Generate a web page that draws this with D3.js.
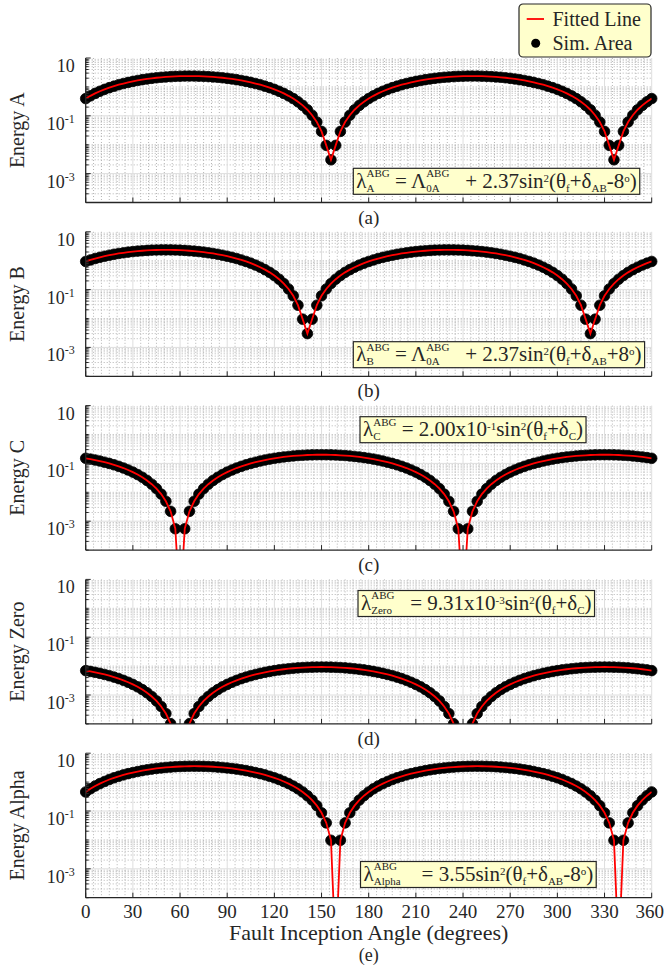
<!DOCTYPE html>
<html>
<head>
<meta charset="utf-8">
<script src="https://cdn.jsdelivr.net/npm/d3@7"></script>
<style>
body { margin: 0; background: #fff; }
svg text { font-family: "Liberation Serif", "Times New Roman", serif; fill: #262626; }
</style>
</head>
<body>
<svg width="665" height="966"></svg>
<script>
// fault inception angle (degrees), one sample every 3 degrees
var angles = [0,3,6,9,12,15,18,21,24,27,30,33,36,39,42,45,48,51,54,57,60,63,66,69,72,75,78,81,84,87,
  90,93,96,99,102,105,108,111,114,117,120,123,126,129,132,135,138,141,144,147,150,153,156,159,162,165,168,171,174,177,
  180,183,186,189,192,195,198,201,204,207,210,213,216,219,222,225,228,231,234,237,240,243,246,249,252,255,258,261,264,267,
  270,273,276,279,282,285,288,291,294,297,300,303,306,309,312,315,318,321,324,327,330,333,336,339,342,345,348,351,354,357,360];

var energyA = [0.395,0.491,0.596,0.706,0.822,0.942,1.06,1.19,1.31,1.43,1.55,1.67,1.78,1.88,1.98,2.07,2.15,2.21,2.27,2.32,2.35,2.37,2.37,
  2.37,2.35,2.32,2.27,2.21,2.15,2.07,1.98,1.88,1.78,1.67,1.55,1.43,1.31,1.19,1.06,0.942,0.822,0.706,0.596,0.491,0.395,0.307,0.229,0.162,0.105,0.0610,0.0289,0.00949,0.00300,
  0.00949,0.0289,0.0610,0.105,0.162,0.229,0.307,
  0.395,0.491,0.596,0.706,0.822,0.942,1.06,1.19,1.31,1.43,1.55,1.67,1.78,1.88,1.98,2.07,2.15,2.21,2.27,2.32,2.35,2.37,2.37,
  2.37,2.35,2.32,2.27,2.21,2.15,2.07,1.98,1.88,1.78,1.67,1.55,1.43,1.31,1.19,1.06,0.942,0.822,0.706,0.596,0.491,0.395,0.307,0.229,0.162,0.105,0.0610,0.0289,0.00949,0.00300,
  0.00949,0.0289,0.0610,0.105,0.162,0.229,0.307,
  0.395];

var energyB = [0.942,1.06,1.19,1.31,1.43,1.55,1.67,1.78,1.88,1.98,2.07,2.15,2.21,2.27,2.32,2.35,2.37,2.37,
  2.37,2.35,2.32,2.27,2.21,2.15,2.07,1.98,1.88,1.78,1.67,1.55,1.43,1.31,1.19,1.06,0.942,0.822,0.706,0.596,0.491,0.395,0.307,0.229,0.162,0.105,0.0610,0.0289,0.00949,0.00300,
  0.00949,0.0289,0.0610,0.105,0.162,0.229,0.307,0.395,0.491,0.596,0.706,0.822,
  0.942,1.06,1.19,1.31,1.43,1.55,1.67,1.78,1.88,1.98,2.07,2.15,2.21,2.27,2.32,2.35,2.37,2.37,
  2.37,2.35,2.32,2.27,2.21,2.15,2.07,1.98,1.88,1.78,1.67,1.55,1.43,1.31,1.19,1.06,0.942,0.822,0.706,0.596,0.491,0.395,0.307,0.229,0.162,0.105,0.0610,0.0289,0.00949,0.00300,
  0.00949,0.0289,0.0610,0.105,0.162,0.229,0.307,0.395,0.491,0.596,0.706,0.822,
  0.942];

var energyC = [0.150,0.141,0.131,0.121,0.110,0.100,0.0895,0.0792,0.0691,0.0593,0.0500,0.0412,0.0331,0.0257,0.0191,0.0134,0.00865,0.00489,0.00219,0.000548,
  0,
  0.000548,0.00219,0.00489,0.00865,0.0134,0.0191,0.0257,0.0331,0.0412,0.0500,0.0593,0.0691,0.0792,0.0895,0.100,0.110,0.121,0.131,0.141,0.150,0.159,0.167,0.174,0.181,0.187,0.191,0.195,0.198,0.199,0.200,
  0.199,0.198,0.195,0.191,0.187,0.181,0.174,0.167,0.159,
  0.150,0.141,0.131,0.121,0.110,0.100,0.0895,0.0792,0.0691,0.0593,0.0500,0.0412,0.0331,0.0257,0.0191,0.0134,0.00865,0.00489,0.00219,0.000548,
  0,
  0.000548,0.00219,0.00489,0.00865,0.0134,0.0191,0.0257,0.0331,0.0412,0.0500,0.0593,0.0691,0.0792,0.0895,0.100,0.110,0.121,0.131,0.141,0.150,0.159,0.167,0.174,0.181,0.187,0.191,0.195,0.198,0.199,0.200,
  0.199,0.198,0.195,0.191,0.187,0.181,0.174,0.167,0.159,
  0.150];

var energyZero = [0.00698,0.00655,0.00609,0.00562,0.00514,0.00466,0.00417,0.00369,0.00322,0.00276,0.00233,0.00192,0.00154,0.00120,0.000889,0.000624,0.000402,0.000228,0.000102,0.0000255,
  0,
  0.0000255,0.000102,0.000228,0.000402,0.000624,0.000889,0.00120,0.00154,0.00192,0.00233,0.00276,0.00322,0.00369,0.00417,0.00466,0.00514,0.00562,0.00609,0.00655,0.00698,0.00739,0.00777,0.00811,0.00842,0.00869,0.00891,0.00908,0.00921,0.00928,0.00931,
  0.00928,0.00921,0.00908,0.00891,0.00869,0.00842,0.00811,0.00777,0.00739,
  0.00698,0.00655,0.00609,0.00562,0.00514,0.00466,0.00417,0.00369,0.00322,0.00276,0.00233,0.00192,0.00154,0.00120,0.000889,0.000624,0.000402,0.000228,0.000102,0.0000255,
  0,
  0.0000255,0.000102,0.000228,0.000402,0.000624,0.000889,0.00120,0.00154,0.00192,0.00233,0.00276,0.00322,0.00369,0.00417,0.00466,0.00514,0.00562,0.00609,0.00655,0.00698,0.00739,0.00777,0.00811,0.00842,0.00869,0.00891,0.00908,0.00921,0.00928,0.00931,
  0.00928,0.00921,0.00908,0.00891,0.00869,0.00842,0.00811,0.00777,0.00739,
  0.00698];

var energyAlpha = [0.456,0.587,0.732,0.888,1.05,1.23,1.41,1.59,1.78,1.96,2.14,2.32,2.50,2.66,2.82,2.96,3.09,3.21,3.31,3.40,3.46,3.51,3.54,3.55,
  3.54,3.51,3.46,3.40,3.31,3.21,3.09,2.96,2.82,2.66,2.50,2.32,2.14,1.96,1.78,1.59,1.41,1.23,1.05,0.888,0.732,0.587,0.456,0.339,0.238,0.153,0.0869,0.0388,0.00972,0,
  0.00972,0.0388,0.0869,0.153,0.238,0.339,
  0.456,0.587,0.732,0.888,1.05,1.23,1.41,1.59,1.78,1.96,2.14,2.32,2.50,2.66,2.82,2.96,3.09,3.21,3.31,3.40,3.46,3.51,3.54,3.55,
  3.54,3.51,3.46,3.40,3.31,3.21,3.09,2.96,2.82,2.66,2.50,2.32,2.14,1.96,1.78,1.59,1.41,1.23,1.05,0.888,0.732,0.587,0.456,0.339,0.238,0.153,0.0869,0.0388,0.00972,0,
  0.00972,0.0388,0.0869,0.153,0.238,0.339,
  0.456];

var xTicks = [0,30,60,90,120,150,180,210,240,270,300,330,360];
var yTicks = [10, 0.1, 0.001];
var yTickExp = ["", "-1", "-3"];
var yNames = ["Energy A", "Energy B", "Energy C", "Energy Zero", "Energy Alpha"];
var tags = ["(a)", "(b)", "(c)", "(d)", "(e)"];
var legendLabels = ["Fitted Line", "Sim. Area"];

// n = normal, u = superscript, d = subscript, s = stacked sup/sub
var equations = [
  [["n","λ"],["s","ABG","A"],["n"," = Λ"],["s","ABG","0A"],["n","   + 2.37sin"],["u","2"],["n","(θ"],["d","f"],["n","+δ"],["d","AB"],["n","-8"],["u","o"],["n",")"]],
  [["n","λ"],["s","ABG","B"],["n"," = Λ"],["s","ABG","0A"],["n","   + 2.37sin"],["u","2"],["n","(θ"],["d","f"],["n","+δ"],["d","AB"],["n","+8"],["u","o"],["n",")"]],
  [["n","λ"],["s","ABG","C"],["n"," = 2.00x10"],["u","-1"],["n","sin"],["u","2"],["n","(θ"],["d","f"],["n","+δ"],["d","C"],["n",")"]],
  [["n","λ"],["s","ABG","Zero"],["n","   = 9.31x10"],["u","-3"],["n","sin"],["u","2"],["n","(θ"],["d","f"],["n","+δ"],["d","C"],["n",")"]],
  [["n","λ"],["s","ABG","Alpha"],["n","    = 3.55sin"],["u","2"],["n","(θ"],["d","f"],["n","+δ"],["d","AB"],["n","-8"],["u","o"],["n",")"]]
];

var series = [energyA, energyB, energyC, energyZero, energyAlpha];

var svg = d3.select("svg");
var left = 85.7, right = 651.7;
var top0 = 58, step = 173.8, ph = 144.5;
var eqPos = [[353.3,168.3],[353.3,341.7],[360,416.7],[358,590.5],[360.5,861.5]];
var axisColor = "#262626";

var x = d3.scaleLinear().domain([0, 360]).range([left, right]);

series.forEach(function(vals, i) {
  var top = top0 + i * step, bottom = top + ph;
  var y = d3.scaleLog().domain([1e-4, 10]).range([bottom, top]);
  var g = svg.append("g");

  // clip areas
  g.append("clipPath").attr("id", "dots" + i)
    .append("rect").attr("x", left - 12).attr("y", top).attr("width", right - left + 24).attr("height", ph);
  g.append("clipPath").attr("id", "line" + i)
    .append("rect").attr("x", left).attr("y", top).attr("width", right - left).attr("height", ph);

  // grid
  var minorX = x.ticks(72).filter(function(d) { return d % 30 !== 0; });
  var minorY = y.ticks().filter(function(d) { return yTicks.indexOf(d) < 0 && d > 1e-4; });
  g.selectAll(".gxm").data(minorX).enter().append("line")
    .attr("x1", x).attr("x2", x).attr("y1", top).attr("y2", bottom)
    .attr("stroke", "#b4b4b4").attr("stroke-dasharray", "1,2");
  g.selectAll(".gym").data(minorY).enter().append("line")
    .attr("x1", left).attr("x2", right).attr("y1", y).attr("y2", y)
    .attr("stroke", "#b4b4b4").attr("stroke-dasharray", "1,2");
  g.selectAll(".gx").data(xTicks.slice(1)).enter().append("line")
    .attr("x1", x).attr("x2", x).attr("y1", top).attr("y2", bottom)
    .attr("stroke", "#dedede");
  g.selectAll(".gy").data(yTicks.slice(1)).enter().append("line")
    .attr("x1", left).attr("x2", right).attr("y1", y).attr("y2", y)
    .attr("stroke", "#dedede");

  var pts = angles.map(function(a, j) { return { a: a, v: vals[j] }; });

  // simulated points
  g.append("g").attr("clip-path", "url(#dots" + i + ")")
    .selectAll("circle").data(pts.filter(function(d) { return d.v > 0; }))
    .enter().append("circle")
    .attr("cx", function(d) { return x(d.a); })
    .attr("cy", function(d) { return y(d.v); })
    .attr("r", 5.3).attr("fill", "#000").attr("stroke", "#000").attr("stroke-width", 0.8);

  // fitted line
  var line = d3.line()
    .x(function(d) { return x(d.a); })
    .y(function(d) { return y(Math.max(d.v, 1e-6)); });
  g.append("path").datum(pts).attr("clip-path", "url(#line" + i + ")")
    .attr("d", line).attr("fill", "none").attr("stroke", "#ff0000").attr("stroke-width", 1.8);

  // axes
  g.append("line").attr("x1", left).attr("x2", left).attr("y1", top).attr("y2", bottom)
    .attr("stroke", axisColor).attr("stroke-width", 1.3);
  g.append("line").attr("x1", left).attr("x2", right).attr("y1", bottom).attr("y2", bottom)
    .attr("stroke", axisColor).attr("stroke-width", 1.3);
  g.selectAll(".tx").data(xTicks).enter().append("line")
    .attr("x1", x).attr("x2", x).attr("y1", bottom).attr("y2", bottom - 5)
    .attr("stroke", axisColor);
  g.selectAll(".ty").data(y.ticks()).enter().append("line")
    .attr("x1", left).attr("x2", function(d) { return yTicks.indexOf(d) >= 0 ? left + 5 : left + 3; })
    .attr("y1", y).attr("y2", y)
    .attr("stroke", axisColor);

  // y tick labels
  yTicks.forEach(function(t, k) {
    var tx = g.append("text").attr("x", left - 11).attr("y", y(t) + 14)
      .attr("text-anchor", "end").attr("font-size", 18);
    tx.append("tspan").text("10");
    if (yTickExp[k]) tx.append("tspan").attr("dy", -7).attr("font-size", 12).text(yTickExp[k]);
  });

  // y title
  g.append("text").attr("transform", "translate(23.5," + (top + ph / 2) + ") rotate(-90)")
    .attr("text-anchor", "middle").attr("font-size", 20).text(yNames[i]);

  if (i === series.length - 1) {
    g.selectAll(".xl").data(xTicks).enter().append("text")
      .attr("x", function(d) { return d === 360 ? 664 : x(d); })
      .attr("y", bottom + 20)
      .attr("text-anchor", function(d) { return d === 360 ? "end" : "middle"; })
      .attr("font-size", 19).text(function(d) { return d; });
    g.append("text").attr("x", (left + right) / 2).attr("y", bottom + 42)
      .attr("text-anchor", "middle").attr("font-size", 22).text("Fault Inception Angle (degrees)");
    g.append("text").attr("x", (left + right) / 2).attr("y", bottom + 63)
      .attr("text-anchor", "middle").attr("font-size", 18).text(tags[i]);
  } else {
    g.append("text").attr("x", (left + right) / 2).attr("y", bottom + 21)
      .attr("text-anchor", "middle").attr("font-size", 19).text(tags[i]);
  }

  drawEquation(equations[i], eqPos[i][0], eqPos[i][1]);
});

function drawEquation(segs, bx, by) {
  var g = svg.append("g");
  var rect = g.append("rect").attr("x", bx).attr("y", by).attr("height", 26)
    .attr("fill", "#ffffcc").attr("stroke", axisColor).attr("stroke-width", 1.2);
  var cx = bx + 3;
  function put(t, size, base) {
    var el = g.append("text").attr("x", cx).attr("y", by + base)
      .attr("font-size", size).style("white-space", "pre").text(t);
    return el.node().getComputedTextLength();
  }
  segs.forEach(function(s) {
    if (s[0] === "n") cx += put(s[1], 21, 19.6);
    else if (s[0] === "u") cx += put(s[1], 11, 13.2);
    else if (s[0] === "d") cx += put(s[1], 11, 23.6);
    else {
      var a = put(s[1], 11, 8.8), b = put(s[2], 11, 23.6);
      cx += Math.max(a, b);
    }
  });
  rect.attr("width", cx - bx + 3);
}

// legend
var lg = svg.append("g");
lg.append("rect").attr("x", 519).attr("y", 4).attr("width", 132).attr("height", 53).attr("rx", 4)
  .attr("fill", "#ffffcc").attr("stroke", axisColor).attr("stroke-width", 1.2);
lg.append("line").attr("x1", 526.7).attr("x2", 544).attr("y1", 19).attr("y2", 19)
  .attr("stroke", "#ff0000").attr("stroke-width", 1.8);
lg.append("circle").attr("cx", 535.7).attr("cy", 43.3).attr("r", 4.5).attr("fill", "#000");
lg.selectAll(".lt").data(legendLabels).enter().append("text")
  .attr("x", 552.5).attr("y", function(d, k) { return 26 + k * 24; })
  .attr("font-size", 20).text(function(d) { return d; });
</script>
</body>
</html>
